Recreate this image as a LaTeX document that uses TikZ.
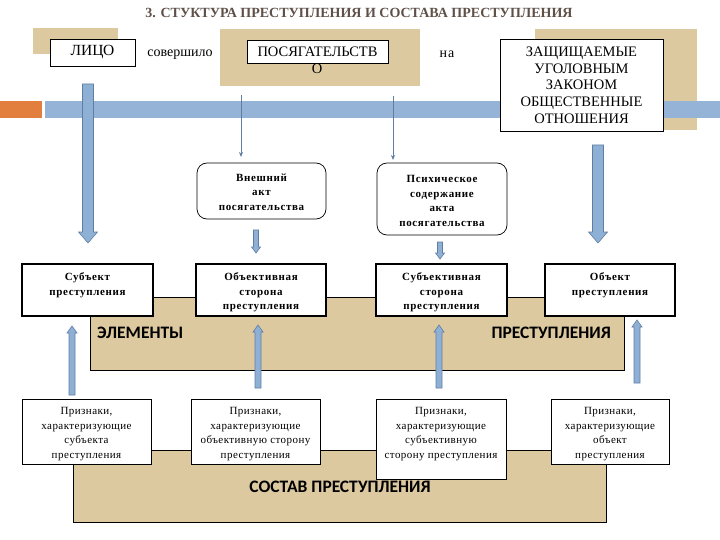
\documentclass[tikz,border=0pt]{standalone}
\usepackage{fontspec}
\setmainfont{Liberation Serif}
\newfontfamily\calib{Carlito}
\newfontfamily\spacedserif[LetterSpace=6]{Liberation Serif}
\newfontfamily\spacedreg[LetterSpace=4]{Liberation Serif}
\usetikzlibrary{arrows.meta}
\definecolor{tanc}{RGB}{221,201,160}
\definecolor{barblue}{RGB}{149,179,215}
\definecolor{arrblue}{RGB}{143,176,213}
\definecolor{arredge}{RGB}{96,126,162}
\definecolor{orng}{RGB}{226,126,62}
\definecolor{titlec}{RGB}{95,80,72}
\newcommand\myblockarr[6]{%
  \draw[blockarr] (#1-#4,#2) -- (#1-#4,#3-#6) -- (#1-#5,#3-#6) -- (#1,#3) -- (#1+#5,#3-#6) -- (#1+#4,#3-#6) -- (#1+#4,#2) -- cycle;}
\tikzset{
  tanbox/.style={fill=tanc, draw=none},
  tanframe/.style={fill=tanc, draw=black, line width=0.8pt},
  blockarr/.style={fill=arrblue, draw=arredge, line width=0.6pt},
  whitebox/.style={draw=black, fill=white, line width=0.8pt, inner sep=0pt},
  thickbox/.style={draw=black, fill=white, line width=2pt, inner sep=0pt},
  roundbox/.style={draw=black, fill=white, line width=0.7pt, rounded corners=10pt, inner sep=0pt},
  lbl/.style={align=center, inner sep=0pt},
  boldsmall/.style={lbl, font=\spacedserif\fontsize{11}{14.5}\selectfont\bfseries},
  regsmall/.style={lbl, font=\spacedreg\fontsize{11}{14.5}\selectfont},
  bigsans/.style={inner sep=0pt, font=\calib\fontsize{17.5}{19}\selectfont\bfseries},
  capsfont/.style={font=\fontsize{14.5}{16.7}\selectfont},
  thinarr/.style={draw=arredge, line width=1pt, -{Stealth[length=5pt,width=4pt]}},
}
\begin{document}
\begin{tikzpicture}[x=1pt,y=-1pt]
\useasboundingbox (0,0) rectangle (720,540);
% title
\node[font=\fontsize{14}{15}\selectfont\bfseries, text=titlec, inner sep=0pt] (title) at (359,13) {3. СТУКТУРА ПРЕСТУПЛЕНИЯ И СОСТАВА ПРЕСТУПЛЕНИЯ};
% tan backgrounds of top row
\fill[tanbox] (33,28) rectangle (118,54);
\fill[tanbox] (220,29) rectangle (420,86);
\fill[tanbox] (535,29) rectangle (697,130);
% bar
\fill[orng] (0,101) rectangle (42,118);
\fill[barblue] (45,101) rectangle (720,118);
% top row nodes
\node[whitebox, minimum width=85pt, minimum height=27pt, font=\fontsize{15.5}{17}\selectfont] (lico) at (92.5,52.5) {ЛИЦО};
\node[inner sep=0pt, font=\fontsize{14}{16}\selectfont] (sov) at (180,55) {совершило};
\node[whitebox, minimum width=141pt, minimum height=23pt, capsfont] (posyag) at (317.5,51.5) {ПОСЯГАТЕЛЬСТВ};
\node[inner sep=0pt, capsfont] (posyagO) at (317,69) {О};
\node[inner sep=0pt, font=\spacedserif\fontsize{14}{16}\selectfont] (na) at (447,54) {на};
\node[whitebox, minimum width=163pt, minimum height=92pt, align=center, capsfont] (zasch) at (581.5,85) {ЗАЩИЩАЕМЫЕ\\УГОЛОВНЫМ\\ЗАКОНОМ\\ОБЩЕСТВЕННЫЕ\\ОТНОШЕНИЯ};
% element background
\draw[tanframe] (90,297) rectangle (624,370);
\node[bigsans, anchor=west] (elem) at (97,333) {ЭЛЕМЕНТЫ};
\node[bigsans, anchor=east] (prest) at (611,333) {ПРЕСТУПЛЕНИЯ};
% bottom background
\draw[tanframe] (73,450) rectangle (606,522);
\node[bigsans] (sostav) at (340,487) {СОСТАВ ПРЕСТУПЛЕНИЯ};
% big arrows
\myblockarr{88}{84}{243}{5.5}{9.5}{11}
\myblockarr{598}{145}{243}{5.5}{9.5}{11}
% thin arrows
\coordinate (t1s) at (241,95); \coordinate (t1e) at (241,157);
\coordinate (t2s) at (393,96); \coordinate (t2e) at (393,160);
\draw[thinarr] (t1s) -- (t1e);
\draw[thinarr] (t2s) -- (t2e);
% rounded boxes
\node[roundbox, minimum width=129pt, minimum height=56pt] (vnesh) at (261.5,191) {};
\node[boldsmall] at ([yshift=-1pt]vnesh.center) {Внешний\\акт\\посягательства};
\node[roundbox, minimum width=130pt, minimum height=72pt] (psih) at (442,199) {};
\node[boldsmall] at ([yshift=-2pt]psih.center) {Психическое\\содержание\\акта\\посягательства};
% small down arrows
\myblockarr{256}{230}{253}{2.5}{4.5}{6}
\myblockarr{440}{242}{259}{2.5}{4.5}{6}
% up arrows
\myblockarr{72}{395}{326}{3}{5}{-7}
\myblockarr{258}{388}{325}{3}{5}{-7}
\myblockarr{439}{388}{325}{3}{5}{-7}
\myblockarr{637}{383}{320}{3}{5}{-7}
% element boxes
\node[thickbox, minimum width=131pt, minimum height=52pt] (subj) at (87.5,290) {};
\node[boldsmall, anchor=north] at ([yshift=-9.5pt]subj.north) {Субъект\\преступления};
\node[thickbox, minimum width=130pt, minimum height=52pt] (objst) at (261,290) {};
\node[boldsmall, anchor=north] at ([yshift=-9.5pt]objst.north) {Объективная\\сторона\\преступления};
\node[thickbox, minimum width=131pt, minimum height=52pt] (subjst) at (441.5,290) {};
\node[boldsmall, anchor=north] at ([yshift=-9.5pt]subjst.north) {Субъективная\\сторона\\преступления};
\node[thickbox, minimum width=130pt, minimum height=52pt] (obj) at (610,290) {};
\node[boldsmall, anchor=north] at ([yshift=-9.5pt]obj.north) {Объект\\преступления};
% feature boxes
\node[whitebox, minimum width=129pt, minimum height=65pt] (f1) at (86.5,431.5) {};
\node[regsmall, anchor=north] at ([yshift=-8.5pt]f1.north) {Признаки,\\характеризующие\\субъекта\\преступления};
\node[whitebox, minimum width=129pt, minimum height=65pt] (f2) at (255.5,431.5) {};
\node[regsmall, anchor=north] at ([yshift=-8.5pt]f2.north) {Признаки,\\характеризующие\\объективную сторону\\преступления};
\node[whitebox, minimum width=130pt, minimum height=80pt] (f3) at (441,439) {};
\node[regsmall, anchor=north] at ([yshift=-8.5pt]f3.north) {Признаки,\\характеризующие\\субъективную\\сторону преступления};
\node[whitebox, minimum width=118pt, minimum height=65pt] (f4) at (610,431.5) {};
\node[regsmall, anchor=north] at ([yshift=-8.5pt]f4.north) {Признаки,\\характеризующие\\объект\\преступления};
\end{tikzpicture}
\end{document}
